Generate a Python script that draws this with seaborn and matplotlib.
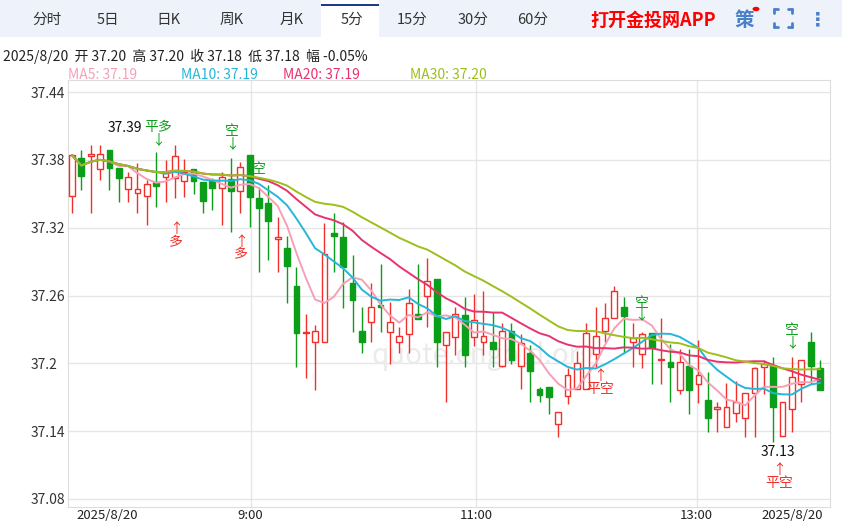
import matplotlib
matplotlib.use("Agg")
import matplotlib.pyplot as plt
import seaborn as sns
import numpy as np
import pandas as pd
from matplotlib.patches import Rectangle
from matplotlib.lines import Line2D

sns.set_style("white")
plt.rcParams['font.family'] = ['Noto Sans CJK SC', 'DejaVu Sans']

opens = [37.348,37.382,37.383,37.372,37.389,37.373,37.354,37.351,37.348,37.360,37.365,37.364,37.361,37.372,37.360,
         37.362,37.355,37.363,37.352,37.384,37.346,37.342,37.310,37.302,37.268,37.227,37.219,37.219,37.315,37.312,
         37.271,37.229,37.237,37.252,37.228,37.219,37.226,37.244,37.260,37.275,37.216,37.223,37.243,37.223,37.219,
         37.219,37.198,37.229,37.198,37.209,37.177,37.179,37.146,37.171,37.177,37.177,37.208,37.229,37.240,37.250,
         37.219,37.208,37.227,37.203,37.201,37.176,37.198,37.182,37.168,37.160,37.144,37.156,37.152,37.174,37.197,
         37.198,37.136,37.160,37.182,37.219,37.196]
closes = [37.384,37.366,37.385,37.385,37.373,37.364,37.365,37.354,37.359,37.357,37.369,37.383,37.369,37.361,37.344,
          37.355,37.365,37.352,37.374,37.347,37.337,37.326,37.312,37.286,37.227,37.228,37.229,37.297,37.313,37.285,
          37.256,37.219,37.250,37.250,37.237,37.224,37.253,37.239,37.273,37.219,37.228,37.244,37.207,37.238,37.224,
          37.213,37.229,37.203,37.218,37.193,37.172,37.170,37.157,37.190,37.200,37.227,37.224,37.240,37.264,37.242,
          37.222,37.226,37.214,37.204,37.197,37.201,37.176,37.190,37.152,37.161,37.161,37.166,37.174,37.196,37.199,
          37.161,37.166,37.188,37.203,37.198,37.176]
highs = [37.385,37.389,37.393,37.393,37.389,37.373,37.369,37.377,37.362,37.387,37.380,37.393,37.381,37.372,37.360,
         37.364,37.369,37.382,37.378,37.384,37.356,37.358,37.329,37.313,37.285,37.244,37.234,37.324,37.333,37.325,
         37.296,37.250,37.271,37.288,37.254,37.232,37.266,37.288,37.293,37.275,37.228,37.250,37.259,37.261,37.264,
         37.245,37.236,37.236,37.226,37.216,37.179,37.179,37.157,37.196,37.211,37.236,37.250,37.253,37.268,37.259,
         37.236,37.228,37.227,37.240,37.217,37.213,37.213,37.221,37.192,37.166,37.183,37.184,37.174,37.197,37.203,
         37.206,37.166,37.206,37.203,37.228,37.203]
lows = [37.333,37.353,37.333,37.362,37.353,37.343,37.343,37.333,37.322,37.338,37.343,37.346,37.347,37.350,37.333,
        37.336,37.322,37.316,37.333,37.321,37.281,37.291,37.281,37.253,37.197,37.187,37.176,37.219,37.281,37.249,
        37.228,37.209,37.219,37.228,37.199,37.209,37.209,37.241,37.232,37.197,37.166,37.207,37.197,37.215,37.207,
        37.197,37.197,37.199,37.177,37.166,37.166,37.155,37.135,37.164,37.177,37.177,37.197,37.219,37.240,37.209,
        37.197,37.196,37.182,37.182,37.166,37.173,37.155,37.165,37.139,37.139,37.148,37.148,37.135,37.135,37.173,
        37.130,37.136,37.139,37.166,37.182,37.176]

ytick_vals = [37.08, 37.14, 37.2, 37.26, 37.32, 37.38, 37.44]
ytick_labels = ["37.08", "37.14", "37.2", "37.26", "37.32", "37.38", "37.44"]
xtick_pos = [3.8, 19.1, 43.2, 66.8, 77.0]
xtick_labels = ["2025/8/20", "9:00", "11:00", "13:00", "2025/8/20"]
tab_names = ["分时", "5日", "日K", "周K", "月K", "5分", "15分", "30分", "60分"]

RED = "#f0302a"; GREEN = "#0a9e19"
ma_colors = {"MA5": "#f6a0b8", "MA10": "#27b6d8", "MA20": "#e8336f", "MA30": "#9cbf1c"}

n = len(closes)
idx = np.arange(n)
cs = pd.Series(closes)
df = pd.DataFrame({"i": idx})
for k in (5, 10, 20, 30):
    df[f"MA{k}"] = cs.rolling(k, min_periods=1).mean()
long = df.melt(id_vars="i", var_name="ma", value_name="v")

fig = plt.figure(figsize=(8.42, 5.26), dpi=100)
W, H = 842, 526
top_px, bot_px = 80, 507
# y mapping: 37.44 -> 92px, 37.08 -> 499px
ppu = (499 - 92) / 0.36
ax = fig.add_axes([68/W, 1-bot_px/H, (830-68)/W, (bot_px-top_px)/H])
ax.set_xlim(-0.43, 81.07)
ax.set_ylim(37.44 - (bot_px - 92)/ppu, 37.44 + (92 - top_px)/ppu)

for v in ytick_vals:
    ax.axhline(v, color="#e6e6e6", lw=1, zorder=0)
for p in xtick_pos[1:4]:
    ax.axvline(p, color="#e6e6e6", lw=1, zorder=0)

w = 0.62
for i in range(n):
    o, c, h, l = opens[i], closes[i], highs[i], lows[i]
    up = c >= o
    col = RED if up else GREEN
    lo, hi = min(o, c), max(o, c)
    ax.vlines(i, l, lo, color=col, lw=1, zorder=2)
    ax.vlines(i, hi, h, color=col, lw=1, zorder=2)
    ht = max(hi - lo, 0.0004)
    ax.add_patch(Rectangle((i - w/2, lo), w, ht, facecolor="white" if up else col,
                           edgecolor=col, lw=1, zorder=3))

sns.lineplot(data=long, x="i", y="v", hue="ma", palette=ma_colors, ax=ax, lw=1.4,
             legend=False, zorder=4)

ax.set_yticks(ytick_vals)
ax.set_yticklabels(ytick_labels)
ax.tick_params(axis="y", labelsize=10, colors="#333333", length=0, pad=27)
for t in ax.get_yticklabels():
    t.set_horizontalalignment("left")
ax.set_xticks(xtick_pos)
ax.set_xticklabels(xtick_labels)
ax.tick_params(axis="x", labelsize=9.5, colors="#222222", length=0, pad=1.5)
ax.set_xlabel(""); ax.set_ylabel("")
for s in ax.spines.values():
    s.set_color("#dddddd")

def sig(x, y, txt, color, up):
    arrow = "↑" if up else "↓"
    s = f"{arrow}\n{txt}" if up else f"{txt}\n{arrow}"
    ax.text(x, y, s, color=color, fontsize=10, ha="center", va="center", linespacing=0.9, zorder=6)

ax.text(5.7, 37.402, "37.39", fontsize=10, color="#111111", ha="center", va="bottom")
sig(9.2, 37.403, "平多", GREEN, False)
sig(11.1, 37.313, "多", RED, True)
sig(17.1, 37.400, "空", GREEN, False)
sig(18.1, 37.302, "多", RED, True)
ax.text(20.0, 37.372, "空", color=GREEN, fontsize=10, ha="center", va="center")
sig(56.5, 37.183, "平空", RED, True)
sig(60.9, 37.248, "空", GREEN, False)
sig(77.0, 37.224, "空", GREEN, False)
ax.text(75.5, 37.128, "37.13", fontsize=10, color="#111111", ha="center", va="top")
sig(75.6, 37.100, "平空", RED, True)
ax.text(44, 37.22, "quote.cngold.org", fontsize=20, color="#ebebeb", ha="center", va="top", zorder=1)

# top tab bar
fig.patches.append(Rectangle((0, 1-37/H), 1, 37/H, transform=fig.transFigure,
                             facecolor="#edf2fb", edgecolor="none", zorder=0))
fig.patches.append(Rectangle((321/W, 1-37/H), 58/W, 37/H, transform=fig.transFigure,
                             facecolor="white", edgecolor="none", zorder=1))
fig.patches.append(Rectangle((321/W, 1-6/H), 58/W, 2/H, transform=fig.transFigure,
                             facecolor="#1a3c8c", edgecolor="none", zorder=2))
tab_x = [47, 108, 168, 232, 292, 352, 412, 473, 533]
for t, x in zip(tab_names, tab_x):
    fig.text(x/W, 1-20/H, t, fontsize=10.5, color="#333333", ha="center", va="center")
fig.text(653/W, 1-20/H, "打开金投网APP", fontsize=13, color="#ff0000", weight="bold", ha="center", va="center")
fig.text(744/W, 1-20/H, "策", fontsize=14, color="#4a80c8", ha="center", va="center", weight="bold")
fig.patches.append(matplotlib.patches.Circle((756/W, 1-9/H), 3.5/W, transform=fig.transFigure,
                                             facecolor="#ff0000", edgecolor="none"))
# fullscreen corners
cx, cy, s, g = 783, 18, 9, 4
for dx in (-1, 1):
    for dy in (-1, 1):
        x0, y0 = cx + dx*s, cy + dy*s
        fig.lines.append(Line2D([x0/W, x0/W], [1-y0/H, 1-(y0 - dy*g)/H], transform=fig.transFigure,
                                color="#4a80c8", lw=2))
        fig.lines.append(Line2D([x0/W, (x0 - dx*g)/W], [1-y0/H, 1-y0/H], transform=fig.transFigure,
                                color="#4a80c8", lw=2))
fig.text(818/W, 1-20/H, "⋮", fontsize=14, color="#4a80c8", ha="center", va="center", weight="bold",
         family=['DejaVu Sans'])
fig.text(3/W, 1-56/H, "2025/8/20  开 37.20  高 37.20  收 37.18  低 37.18  幅 -0.05%",
         fontsize=10, color="#222222", ha="left", va="center")
for t, x, c in [("MA5: 37.19", 68, "MA5"), ("MA10: 37.19", 181, "MA10"),
                ("MA20: 37.19", 283, "MA20"), ("MA30: 37.20", 410, "MA30")]:
    fig.text(x/W, 1-75/H, t, fontsize=10, color=ma_colors[c], ha="left", va="center")

fig.savefig("out.png", dpi=100)
